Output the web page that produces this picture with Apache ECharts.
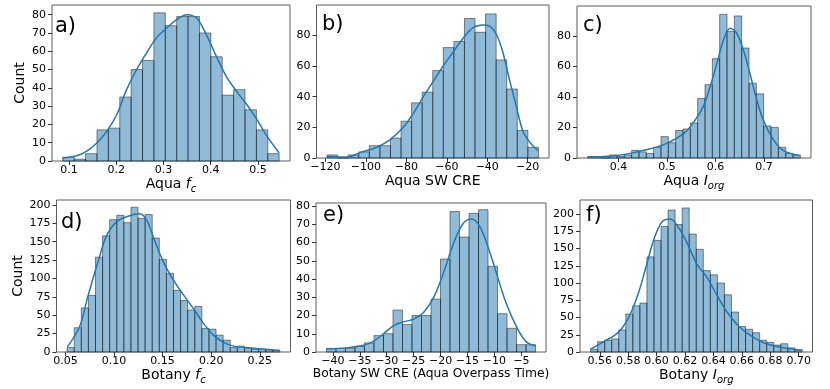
<!DOCTYPE html>
<html>
<head>
<meta charset="utf-8">
<script src="https://cdn.jsdelivr.net/npm/echarts@6.0.0/dist/echarts.min.js"></script>
<style>
html, body { margin: 0; padding: 0; background: #fff; }
#chart { width: 830px; height: 389px; }
</style>
</head>
<body>
<div id="chart"></div>
<script>
var FONT = 'DejaVu Sans';
var BLUE = '#1f77b4';

// a) Aqua fc
var aquaFcCounts = [2, 1, 4, 17, 18, 35, 50, 55, 81, 74, 79, 79, 70, 57, 36, 39, 28, 17, 4];
var aquaFcEdges = [0.087, 0.545];
var aquaFcKde = [[0.086, 1.6], [0.116, 2.9], [0.137, 5.3], [0.159, 9.8], [0.180, 16.2], [0.201, 25.3], [0.222, 39], [0.243, 49.9],
    [0.264, 59], [0.285, 67.2], [0.307, 72.7], [0.328, 77.3], [0.349, 80], [0.370, 78.2], [0.391, 69], [0.412, 57.2],
    [0.433, 46.3], [0.455, 38], [0.476, 31], [0.497, 23], [0.518, 14], [0.545, 4.4]];
var aquaFcXTicks = [0.1, 0.2, 0.3, 0.4, 0.5];
var aquaFcYTicks = [0, 10, 20, 30, 40, 50, 60, 70, 80];

// b) Aqua SW CRE
var aquaSwCounts = [2, 0, 2, 4, 8, 8, 13, 24, 36, 43, 57, 72, 76, 91, 82, 94, 64, 45, 18, 7];
var aquaSwEdges = [-119.2, -14.7];
var aquaSwKde = [[-119.2, 1.2], [-109.3, 0.6], [-102.8, 3.5], [-94.6, 7], [-88, 12], [-81.5, 20], [-76.6, 29], [-71.6, 40],
    [-66.7, 50], [-61.8, 60], [-56.9, 69], [-52, 78], [-47, 85], [-42.1, 86.8], [-38.8, 86], [-35.5, 80.7],
    [-32.3, 69], [-29, 51], [-25.7, 34], [-22.5, 18], [-19.2, 10.7], [-15, 4.8]];
var aquaSwXTicks = [-120, -100, -80, -60, -40, -20];
var aquaSwYTicks = [0, 20, 40, 60, 80];

// c) Aqua Iorg
var aquaIorgCounts = [1, 1, 0, 2, 1, 2, 5, 4, 3, 7, 14, 10, 18, 19, 23, 39, 48, 65, 94, 83, 93, 72, 49, 42, 21, 20, 7, 3, 2];
var aquaIorgEdges = [0.3363, 0.7747];
var aquaIorgKde = [[0.336, 0.5], [0.397, 1.7], [0.431, 3.5], [0.465, 6], [0.499, 9.6], [0.534, 16], [0.554, 23], [0.575, 34],
    [0.588, 46], [0.602, 61], [0.616, 77], [0.630, 85], [0.643, 82], [0.657, 71], [0.671, 55], [0.684, 39],
    [0.698, 25], [0.719, 12], [0.739, 5], [0.773, 1.5]];
var aquaIorgXTicks = [0.4, 0.5, 0.6, 0.7];
var aquaIorgYTicks = [0, 20, 40, 60, 80];

// d) Botany fc
var botanyFcCounts = [6, 33, 60, 77, 129, 158, 180, 186, 176, 197, 182, 187, 155, 126, 107, 84, 70, 57, 62, 32,
    31, 23, 16, 6, 8, 5, 4, 4, 3, 2];
var botanyFcEdges = [0.0518, 0.2706];
var botanyFcKde = [[0.052, 7], [0.0645, 34], [0.073, 75], [0.0852, 130], [0.092, 157], [0.1024, 177], [0.1128, 184],
    [0.1265, 188], [0.1334, 180], [0.1403, 157], [0.1506, 123], [0.161, 98], [0.1713, 78], [0.1817, 59],
    [0.192, 39], [0.2023, 23], [0.2127, 13], [0.223, 8], [0.2437, 5], [0.2706, 2]];
var botanyFcXTicks = [0.05, 0.10, 0.15, 0.20, 0.25];
var botanyFcYTicks = [0, 25, 50, 75, 100, 125, 150, 175, 200];

// e) Botany SW CRE (Aqua overpass time)
var botanySwCounts = [2, 2, 2, 3, 5, 9, 10, 23, 15, 20, 20, 29, 51, 77, 63, 76, 78, 47, 21, 13, 4, 4];
var botanySwEdges = [-41.2, -2.35];
var botanySwKde = [[-41.2, 1.5], [-37.3, 2.4], [-34.3, 3.7], [-32.4, 6], [-30.6, 10], [-28.7, 14.5], [-26.9, 16.5],
    [-25, 18], [-23.2, 21.5], [-21.3, 29.8], [-19.5, 43], [-17.6, 59.5], [-15.8, 70.5], [-14.2, 72.9],
    [-12.7, 68.7], [-11.2, 57.7], [-9.6, 43], [-7.8, 26.7], [-5.9, 13.9], [-4.1, 5.7], [-2.35, 3.3]];
var botanySwXTicks = [-40, -35, -30, -25, -20, -15, -10, -5];
var botanySwYTicks = [0, 10, 20, 30, 40, 50, 60, 70, 80];

// f) Botany Iorg
var botanyIorgCounts = [4, 15, 17, 19, 32, 55, 67, 71, 138, 162, 182, 206, 185, 209, 171, 149, 118, 112, 100, 83,
    58, 37, 33, 28, 17, 14, 10, 12, 6, 3];
var botanyIorgEdges = [0.5535, 0.7023];
var botanyIorgKde = [[0.5535, 4], [0.5628, 15], [0.5722, 27], [0.5793, 46], [0.5863, 80], [0.5933, 129], [0.598, 163],
    [0.6039, 189], [0.6097, 193], [0.6156, 180], [0.6215, 158], [0.6285, 127], [0.6355, 108], [0.6426, 82],
    [0.6496, 58], [0.6566, 40], [0.666, 24], [0.6754, 13.5], [0.6871, 6.8], [0.7028, 2.4]];
var botanyIorgXTicks = [0.56, 0.58, 0.60, 0.62, 0.64, 0.66, 0.68, 0.70];
var botanyIorgYTicks = [0, 25, 50, 75, 100, 125, 150, 175, 200];

var panels = [
    {counts: aquaFcCounts, edges: aquaFcEdges, kde: aquaFcKde, xTicks: aquaFcXTicks, yTicks: aquaFcYTicks,
        yMax: 85.3, digits: 1, name: '{n|Aqua }{i|f}{s|c}', letter: 'a)', count: true},
    {counts: aquaSwCounts, edges: aquaSwEdges, kde: aquaSwKde, xTicks: aquaSwXTicks, yTicks: aquaSwYTicks,
        yMax: 99.8, digits: 0, name: '{n|Aqua SW CRE}', letter: 'b)'},
    {counts: aquaIorgCounts, edges: aquaIorgEdges, kde: aquaIorgKde, xTicks: aquaIorgXTicks, yTicks: aquaIorgYTicks,
        yMax: 99.5, digits: 1, name: '{n|Aqua }{i|I}{s|org}', letter: 'c)'},
    {counts: botanyFcCounts, edges: botanyFcEdges, kde: botanyFcKde, xTicks: botanyFcXTicks, yTicks: botanyFcYTicks,
        yMax: 206.8, digits: 2, name: '{n|Botany }{i|f}{s|c}', letter: 'd)', count: true},
    {counts: botanySwCounts, edges: botanySwEdges, kde: botanySwKde, xTicks: botanySwXTicks, yTicks: botanySwYTicks,
        yMax: 81.7, digits: 0, name: '{m|Botany SW CRE (Aqua Overpass Time)}', letter: 'e)'},
    {counts: botanyIorgCounts, edges: botanyIorgEdges, kde: botanyIorgKde, xTicks: botanyIorgXTicks, yTicks: botanyIorgYTicks,
        yMax: 220.5, digits: 2, name: '{n|Botany }{i|I}{s|org}', letter: 'f)'}
];

// grid boxes in px, x-name gap, letter position
var layout = [
    {left: 52, top: 5, width: 238, height: 156, nameGap: 10, lx: 55, ly: 28},
    {left: 316.5, top: 5, width: 232.5, height: 153, nameGap: 14, lx: 322, ly: 26},
    {left: 577, top: 6, width: 234, height: 152, nameGap: 14, lx: 583, ly: 27},
    {left: 56.5, top: 200, width: 234, height: 152, nameGap: 12, lx: 61, ly: 224},
    {left: 316, top: 203, width: 230, height: 149, nameGap: 12, lx: 323, ly: 217},
    {left: 580, top: 200, width: 232.5, height: 152, nameGap: 13, lx: 586, ly: 217}
];

var nameRich = {
    n: {fontFamily: FONT, fontSize: 14, color: '#000', lineHeight: 16, verticalAlign: 'top'},
    m: {fontFamily: FONT, fontSize: 12.3, color: '#000', lineHeight: 16, verticalAlign: 'top'},
    i: {fontFamily: FONT, fontSize: 14, fontStyle: 'italic', color: '#000', lineHeight: 16, verticalAlign: 'top'},
    s: {fontFamily: FONT, fontSize: 10, fontStyle: 'italic', color: '#000', lineHeight: 10, verticalAlign: 'top', padding: [8, 0, 0, 0]}
};

function tickFormatter(digits) {
    return function (v) {
        return v.toFixed(digits).replace('-', '\u2212');
    };
}

function histItem(params, api) {
    var p0 = api.coord([api.value(0), api.value(2)]);
    var p1 = api.coord([api.value(1), 0]);
    return {
        type: 'rect',
        shape: {x: p0[0], y: p0[1], width: p1[0] - p0[0], height: p1[1] - p0[1]},
        style: {fill: 'rgba(31,119,180,0.5)', stroke: 'rgba(0,0,0,0.5)', lineWidth: 0.9}
    };
}

var grids = [], xAxes = [], yAxes = [], series = [], graphics = [];

panels.forEach(function (p, k) {
    var L = layout[k];
    var lo = p.edges[0], hi = p.edges[1];
    var w = (hi - lo) / p.counts.length;
    var pad = (hi - lo) * 0.05;

    grids.push({left: L.left, top: L.top, width: L.width, height: L.height,
        show: true, borderColor: '#333', borderWidth: 0.8, backgroundColor: 'transparent'});

    xAxes.push({
        type: 'value', gridIndex: k, min: lo - pad, max: hi + pad,
        splitLine: {show: false}, axisLine: {show: false},
        axisTick: {show: true, length: 4, lineStyle: {color: '#333'}, customValues: p.xTicks},
        axisLabel: {customValues: p.xTicks, formatter: tickFormatter(p.digits), margin: 4,
            fontFamily: FONT, fontSize: 11, color: '#000'},
        name: p.name, nameLocation: 'middle', nameGap: L.nameGap,
        nameTextStyle: {rich: nameRich}
    });

    yAxes.push({
        type: 'value', gridIndex: k, min: 0, max: p.yMax,
        splitLine: {show: false}, axisLine: {show: false},
        axisTick: {show: true, length: 4, lineStyle: {color: '#333'}, customValues: p.yTicks},
        axisLabel: {customValues: p.yTicks, formatter: tickFormatter(0), margin: 6,
            fontFamily: FONT, fontSize: 11, color: '#000'},
        name: p.count ? 'Count' : '', nameLocation: 'middle', nameGap: 25,
        nameTextStyle: {fontFamily: FONT, fontSize: 14, color: '#000'}
    });

    series.push({
        type: 'custom', xAxisIndex: k, yAxisIndex: k,
        data: p.counts.map(function (c, i) { return [lo + i * w, lo + (i + 1) * w, c]; }),
        encode: {x: [0, 1], y: 2},
        renderItem: histItem,
        silent: true
    });

    series.push({
        type: 'line', xAxisIndex: k, yAxisIndex: k,
        data: p.kde, smooth: 0.35, showSymbol: false, silent: true,
        lineStyle: {color: BLUE, width: 1.5}, z: 3
    });

    graphics.push({
        type: 'text', left: L.lx, top: L.ly - 12,
        style: {text: p.letter, font: '21px "DejaVu Sans"', fill: '#000'}
    });
});

var chart = echarts.init(document.getElementById('chart'), null, {renderer: 'canvas'});
chart.setOption({
    animation: false,
    backgroundColor: '#fff',
    grid: grids,
    xAxis: xAxes,
    yAxis: yAxes,
    series: series,
    graphic: graphics
});
</script>
</body>
</html>
